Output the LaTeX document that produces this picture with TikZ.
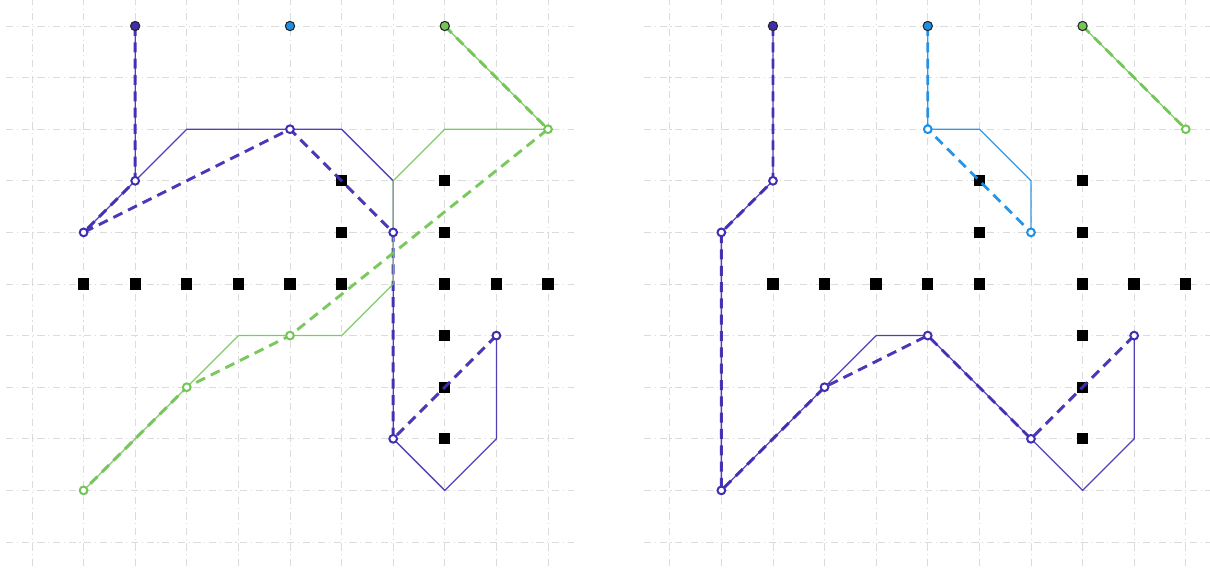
\documentclass[tikz,border=0pt]{standalone}
\usetikzlibrary{positioning}
\definecolor{agentA}{HTML}{3F2DB3}
\definecolor{agentB}{HTML}{1E8FE6}
\definecolor{agentC}{HTML}{72C655}
\tikzset{
	gridline/.style={draw=black!14, line width=0.5pt, dash pattern=on 4pt off 2pt on 0.6pt off 2pt},
	block/.style={fill=black, minimum size=0.22cm, inner sep=0pt},
	start/.style={circle, draw=black!85, line width=0.6pt, minimum size=0.18cm, inner sep=0pt},
	goal/.style={circle, fill=white, line width=1.1pt, minimum size=0.15cm, inner sep=0pt},
	route/.style={line width=0.7pt, opacity=0.9},
	plan/.style={line width=1.6pt, dash pattern=on 5.5pt off 3.5pt, opacity=0.95},
}
\begin{document}
\begin{tikzpicture}
	\useasboundingbox (-0.62,0.504) rectangle (22.83,-10.52);
	% grids
	\foreach \k in {0,...,10} {
		\draw[gridline] (\k,0.55) -- (\k,-10.55);
		\draw[gridline] (-0.5,-\k) -- (10.5,-\k);
		\draw[gridline] (12.36+\k,0.55) -- (12.36+\k,-10.55);
		\draw[gridline] (11.86,-\k) -- (22.86,-\k);
	}
	% left panel
	\foreach \k in {1,...,6,8,9,10}
		\node[block] (Lwall\k) at (\k,-5) {};
	\foreach \j in {3,4,6,7,8}
		\node[block] (Lcol\j) at (8,-\j) {};
	\foreach \j in {3,4}
		\node[block] (Lmid\j) at (6,-\j) {};
	\coordinate (Lp0) at (2,0);
	\coordinate (Lp1) at (2,-3);
	\coordinate (Lp2) at (1,-4);
	\coordinate (Lp3) at (5,-2);
	\coordinate (Lp4) at (7,-4);
	\coordinate (Lp5) at (7,-8);
	\coordinate (Lp6) at (9,-6);
	\coordinate (Lb0) at (5,0);
	\coordinate (Lg0) at (8,0);
	\coordinate (Lg1) at (10,-2);
	\coordinate (Lg2) at (5,-6);
	\coordinate (Lg3) at (3,-7);
	\coordinate (Lg4) at (1,-9);
	\draw[route, agentA] (Lp0) -- (Lp1) -- (Lp2) -- (Lp1) -- (3,-2) -- (6,-2) -- (7,-3) -- (Lp5) -- (8,-9) -- (9,-8) -- (Lp6);
	\draw[plan, agentA] (Lp0) -- (Lp1) -- (Lp2) -- (Lp3) -- (Lp4) -- (Lp5) -- (Lp6);
	\draw[route, agentC] (Lg0) -- (Lg1) -- (8,-2) -- (7,-3) -- (7,-5) -- (6,-6) -- (4,-6) -- (Lg3) -- (Lg4);
	\draw[plan, agentC] (Lg0) -- (Lg1) -- (Lg2) -- (Lg3) -- (Lg4);
	\foreach \n in {1,...,6}
		\node[goal, draw=agentA] (Lpw\n) at (Lp\n) {};
	\foreach \n in {1,...,4}
		\node[goal, draw=agentC] (Lgw\n) at (Lg\n) {};
	\node[start, fill=agentA] (Lstart1) at (Lp0) {};
	\node[start, fill=agentB] (Lstart2) at (Lb0) {};
	\node[start, fill=agentC] (Lstart3) at (Lg0) {};
	% right panel
	\begin{scope}[xshift=12.36cm]
		\foreach \k in {2,...,6,8,9,10}
			\node[block] (Rwall\k) at (\k,-5) {};
		\foreach \j in {3,4,6,7,8}
			\node[block] (Rcol\j) at (8,-\j) {};
		\foreach \j in {3,4}
			\node[block] (Rmid\j) at (6,-\j) {};
		\coordinate (Rp0) at (2,0);
		\coordinate (Rp1) at (2,-3);
		\coordinate (Rp2) at (1,-4);
		\coordinate (Rp3) at (1,-9);
		\coordinate (Rp4) at (3,-7);
		\coordinate (Rp5) at (5,-6);
		\coordinate (Rp6) at (7,-8);
		\coordinate (Rp7) at (9,-6);
		\coordinate (Rb0) at (5,0);
		\coordinate (Rb1) at (5,-2);
		\coordinate (Rb2) at (7,-4);
		\coordinate (Rg0) at (8,0);
		\coordinate (Rg1) at (10,-2);
		\draw[route, agentA] (Rp0) -- (Rp1) -- (Rp2) -- (Rp3) -- (Rp4) -- (4,-6) -- (Rp5) -- (Rp6) -- (8,-9) -- (9,-8) -- (Rp7);
		\draw[plan, agentA] (Rp0) -- (Rp1) -- (Rp2) -- (Rp3) -- (Rp4) -- (Rp5) -- (Rp6) -- (Rp7);
		\draw[route, agentB] (Rb0) -- (Rb1) -- (6,-2) -- (7,-3) -- (Rb2);
		\draw[plan, agentB] (Rb0) -- (Rb1) -- (Rb2);
		\draw[route, agentC] (Rg0) -- (Rg1);
		\draw[plan, agentC] (Rg0) -- (Rg1);
		\foreach \n in {1,...,7}
			\node[goal, draw=agentA] (Rpw\n) at (Rp\n) {};
		\foreach \n in {1,2}
			\node[goal, draw=agentB] (Rbw\n) at (Rb\n) {};
		\node[goal, draw=agentC] (Rgw1) at (Rg1) {};
		\node[start, fill=agentA] (Rstart1) at (Rp0) {};
		\node[start, fill=agentB] (Rstart2) at (Rb0) {};
		\node[start, fill=agentC] (Rstart3) at (Rg0) {};
	\end{scope}
\end{tikzpicture}
\end{document}
